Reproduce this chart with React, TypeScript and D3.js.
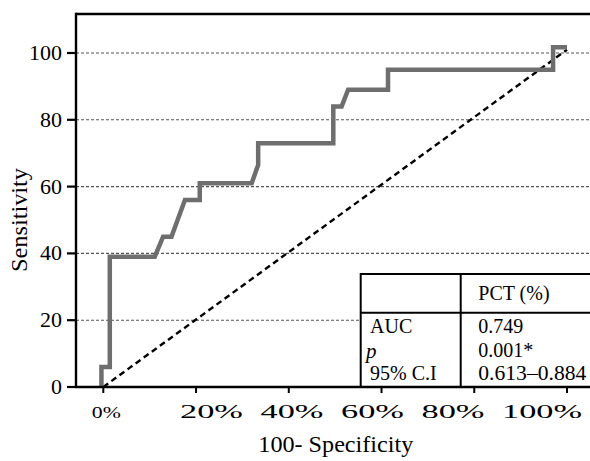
import React from "react";
import * as d3 from "d3";

const rocFpr = [-0.4, -0.4, 1.4, 1.4, 11.1, 12.9, 14.7, 17.6, 20.8, 20.8, 32, 33.4, 33.4, 49.6, 49.6, 51.4, 52.8, 61.4, 61.4, 97, 97, 100];
const rocTpr = [0, 6, 6, 39, 39, 45, 45, 56, 56, 61, 61, 66.5, 73, 73, 84, 84, 89, 89, 95, 95, 101.7, 101.7];
const refFpr = [0, 100];
const refTpr = [0, 101];
const yTicks = [0, 20, 40, 60, 80, 100];
const xTicks = [0, 20, 40, 60, 80, 100];
const xTickLabels = ["0%", "20%", "40%", "60%", "80%", "100%"];
const tableHeader = "PCT (%)";
const tableRows = ["AUC", "p", "95% C.I"];
const tableValues = ["0.749", "0.001*", "0.613–0.884"];

const W = 590;
const H = 461;
const serif = "'Liberation Serif', 'Times New Roman', serif";

export default function App() {
  const x = d3.scaleLinear().domain([0, 100]).range([103.3, 567]);
  const y = d3.scaleLinear().domain([0, 100]).range([387, 53]);
  const labelX = d3.scaleLinear().domain([20, 100]).range([180, 502]);
  const left = 76;
  const top = 14;
  const bottom = 387;

  const roc = rocFpr.map((f, i) => [f, rocTpr[i]] as [number, number]);
  const ref = refFpr.map((f, i) => [f, refTpr[i]] as [number, number]);
  const line = d3
    .line<[number, number]>()
    .x((d) => x(d[0]))
    .y((d) => y(d[1]));

  const tL = 360.7;
  const tT = 274;
  const tDiv = 460.7;
  const tH = 312.7;

  return (
    <svg
      width={W}
      height={H}
      style={{ position: "absolute", left: 0, top: 0, background: "#fff" }}
      fontFamily={serif}
    >
      <rect x={0} y={0} width={W} height={H} fill="#fff" />
      {/* grid */}
      {yTicks
        .filter((t) => t > 0)
        .map((t) => (
          <line
            key={"g" + t}
            x1={left}
            x2={W}
            y1={y(t)}
            y2={y(t)}
            stroke="#555"
            strokeWidth={1.1}
            strokeDasharray="3,2"
          />
        ))}
      {/* diagonal reference */}
      <path d={line(ref) || ""} fill="none" stroke="#000" strokeWidth={2.4} strokeDasharray="6,4" />
      {/* ROC curve */}
      <path
        d={line(roc) || ""}
        fill="none"
        stroke="#6e6e6e"
        strokeWidth={4.5}
        strokeLinejoin="miter"
        strokeLinecap="butt"
      />
      {/* table */}
      <rect x={tL} y={tT} width={W - tL + 10} height={bottom - tT} fill="#fff" stroke="#000" strokeWidth={2} />
      <line x1={tL} x2={W} y1={tH} y2={tH} stroke="#000" strokeWidth={2} />
      <line x1={tDiv} x2={tDiv} y1={tT} y2={bottom} stroke="#000" strokeWidth={2} />
      <text x={478.3} y={300} fontSize={20}>
        {tableHeader}
      </text>
      <text x={370} y={332.7} fontSize={20}>
        {tableRows[0]}
      </text>
      <text x={366} y={358} fontSize={21} fontStyle="italic">
        {tableRows[1]}
      </text>
      <text x={370} y={380} fontSize={20}>
        {tableRows[2]}
      </text>
      <text x={478.3} y={332.7} fontSize={20}>
        {tableValues[0]}
      </text>
      <text x={478.3} y={356.7} fontSize={20}>
        {tableValues[1]}
      </text>
      <text x={478.3} y={380} fontSize={20} textLength={108} lengthAdjust="spacingAndGlyphs">
        {tableValues[2]}
      </text>
      {/* axes */}
      <line x1={left} x2={W} y1={top} y2={top} stroke="#000" strokeWidth={2.4} />
      <line x1={left} x2={left} y1={top - 1.2} y2={bottom + 1} stroke="#000" strokeWidth={2.4} />
      <line x1={left - 1} x2={W} y1={bottom} y2={bottom} stroke="#000" strokeWidth={2.4} />
      {yTicks.map((t) => (
        <g key={"y" + t}>
          <line x1={67} x2={left} y1={y(t)} y2={y(t)} stroke="#000" strokeWidth={2.2} />
          <text x={62} y={y(t) + 7} fontSize={22} textAnchor="end">
            {t}
          </text>
        </g>
      ))}
      {xTicks.map((t, i) => (
        <g key={"x" + t}>
          <line x1={x(t)} x2={x(t)} y1={bottom} y2={bottom + 6} stroke="#000" strokeWidth={2} />
          {i === 0 ? (
            <text
              x={x(t) + 3}
              y={418}
              fontSize={17}
              textAnchor="middle"
              textLength={29}
              lengthAdjust="spacingAndGlyphs"
            >
              {xTickLabels[i]}
            </text>
          ) : (
            <text
              x={labelX(t)}
              y={418}
              fontSize={19}
              textLength={xTickLabels[i].length > 3 ? 80 : 63}
              lengthAdjust="spacingAndGlyphs"
            >
              {xTickLabels[i]}
            </text>
          )}
        </g>
      ))}
      {/* axis titles */}
      <text x={258.3} y={452} fontSize={24} textLength={155} lengthAdjust="spacingAndGlyphs">
        100- Specificity
      </text>
      <text
        transform="translate(27,220) rotate(-90)"
        fontSize={24}
        textAnchor="middle"
        textLength={104}
        lengthAdjust="spacingAndGlyphs"
      >
        Sensitivity
      </text>
    </svg>
  );
}
